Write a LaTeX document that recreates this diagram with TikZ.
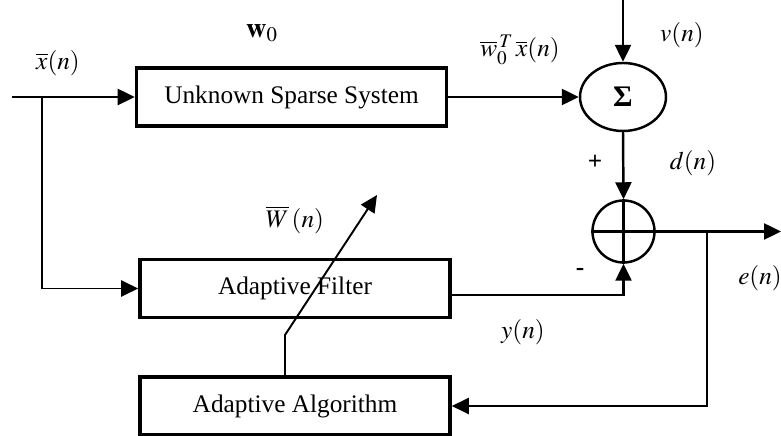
\documentclass[tikz,border=0pt]{standalone}
\usepackage{mathptmx}
\usepackage{fontspec}
\setmainfont{Liberation Serif}
\usetikzlibrary{arrows.meta,shapes.geometric}

\begin{document}
\begin{tikzpicture}[
        every node/.style={font=\fontsize{14.4}{17}\selectfont},
        block/.style={draw, line width=2pt, minimum width=6.2cm, minimum height=1.16cm, inner sep=0pt},
        tip/.style={-{Triangle[length=0.34cm,width=0.32cm]}},
        sig/.style={tip, line width=1.4pt},
        wire/.style={tip, line width=1.1pt}
    ]
        \useasboundingbox (0,0) rectangle (15.62,8.72);

        \node[block] at (5.83,6.78) (usys) {Unknown Sparse System};
        \node[block] at (5.9,2.95) (afilt) {Adaptive Filter};
        \node[block] at (5.9,0.6) (aalg) {Adaptive Algorithm};
        \node[ellipse, draw, line width=1.4pt, minimum width=1.72cm, minimum height=1.36cm, inner sep=0pt, font=\fontsize{17}{19}\selectfont] at (12.46,6.78) (sigma) {\textbf{Σ}};
        \node[circle, draw, line width=1.4pt, minimum size=1.24cm, inner sep=0pt] at (12.47,4.09) (sum) {};

        \coordinate (in) at (0.24,6.78);
        \coordinate (split) at (0.84,6.78);
        \coordinate (noise) at (12.46,8.72);
        \coordinate (out) at (15.62,4.09);
        \coordinate (tap) at (14.14,4.09);
        \coordinate (knee) at (5.7,2.02);
        \coordinate (head) at (7.54,4.82);

        \draw[sig] (in) -- (usys.west);
        \draw[wire] (split) |- (afilt.west);
        \draw[sig] (usys.east) -- (sigma.west);
        \draw[sig] (noise) -- (sigma.north);
        \draw[sig] (sigma.south) -- (sum.north);
        \draw[line width=1.4pt] (sum.north) -- (sum.south) (sum.west) -- (sum.east);
        \draw[sig] ([yshift=-0.13cm]afilt.east) -| (sum.south);
        \draw[sig] (sum.east) -- (out);
        \draw[wire] (tap) |- (aalg.east);
        \draw[wire] (aalg.north -| knee) -- (knee) -- (head);

        \node[font=\fontsize{16}{18}\selectfont] at (5.24,8.06) (w) {$\mathbf{w}_{\mathrm{0}}$};
        \node at (1.16,7.46) (x) {$\overline{x}(n)$};
        \node at (10.4,7.72) (wx) {$\overline{w}_{0}^{\,T}\,\overline{x}(n)$};
        \node at (13.64,8.02) (v) {$v(n)$};
        \node at (11.9,5.48) (plus) {\textbf{+}};
        \node at (13.86,5.46) (d) {$d(n)$};
        \node at (11.6,3.28) (minus) {\textbf{-}};
        \node at (15.2,3.16) (e) {$e(n)$};
        \node at (10.46,2.08) (y) {$y(n)$};
        \node at (5.9,4.32) (W) {$\overline{W}\,(n)$};
    \end{tikzpicture}
\end{document}
